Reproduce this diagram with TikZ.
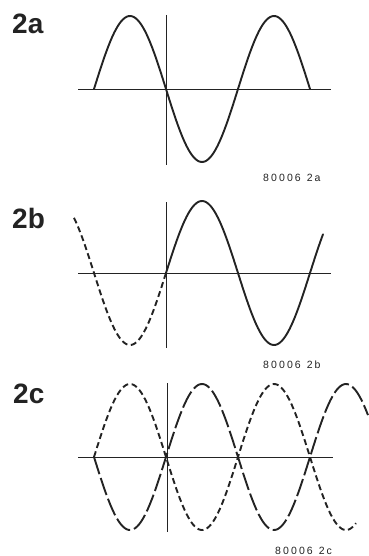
\documentclass[tikz,border=0pt]{standalone}
\usepackage{fontspec}
\setmainfont{Liberation Sans}
\newfontfamily\tagfont[LetterSpace=20]{Liberation Sans}
\definecolor{ink}{RGB}{35,35,35}
\begin{document}
\begin{tikzpicture}[x=1pt,y=-1pt,
  axis/.style={draw=ink,line width=0.9pt},
  wave/.style={draw=ink,line width=1.9pt,line cap=round},
  shortdash/.style={wave,line cap=butt,dash pattern=on 6pt off 3.5pt},
  longdash/.style={wave,line cap=butt,dash pattern=on 18pt off 4pt},
  title/.style={font=\fontsize{28}{31}\selectfont\bfseries,text=ink,anchor=base west,inner sep=0pt},
  tag/.style={font=\fontsize{10.5}{12}\tagfont,text=ink,anchor=base west,inner sep=0pt}]
\useasboundingbox (0,0) rectangle (368,556);
% ---------- 2a ----------
\node[title] (ta) at (12,34) {2a};
\draw[axis] (78,89) -- (331,89);
\draw[axis] (166,15) -- (166,165);
\draw[wave] plot[domain=94:310,samples=120] (\x,{89-73*sin((\x-94)*2.5)});
\node[tag] (la) at (263,182) {80006\hspace{6pt}2a};
% ---------- 2b ----------
\node[title] (tb) at (12,228) {2b};
\draw[axis] (78,273) -- (331,273);
\draw[axis] (166,202) -- (166,348);
\draw[wave] plot[domain=166:323,samples=100] (\x,{273-72*sin((\x-166)*2.5)});
\draw[shortdash] plot[domain=74:166,samples=60] (\x,{273-72*sin((\x-166)*2.5)});
\node[tag] (lb) at (263,368) {80006\hspace{6pt}2b};
% ---------- 2c ----------
\node[title] (tc) at (13,403) {2c};
\draw[axis] (78,457) -- (333,457);
\draw[axis] (167,383) -- (167,532);
\draw[shortdash] plot[domain=94:356,samples=160] (\x,{457-73*sin((\x-94)*2.5)});
\draw[longdash] plot[domain=94:368,samples=160] (\x,{457+73*sin((\x-94)*2.5)});
\node[tag] (lc) at (275,554) {80006\hspace{6pt}2c};
\end{tikzpicture}
\end{document}
